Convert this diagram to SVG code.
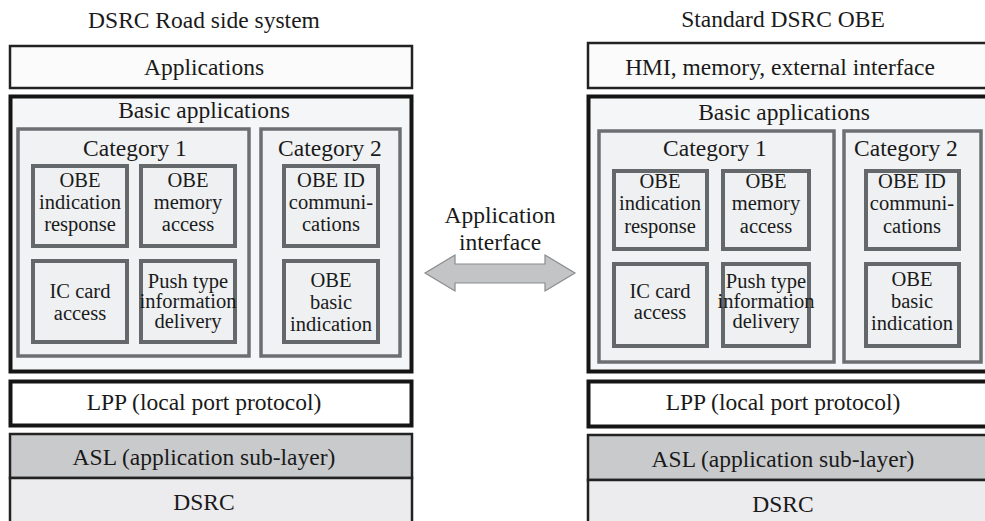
<svg xmlns="http://www.w3.org/2000/svg" width="985" height="521" viewBox="0 0 985 521">
<style>
text{font-family:"Liberation Serif","Times New Roman",serif;fill:#1a1a1a;text-anchor:middle}
.big{font-size:23.5px}
.small{font-size:20.5px}
.layer{fill:#fbfbfb;stroke:#222;stroke-width:2.5}
.outer{fill:#f5f6f7;stroke:#151515;stroke-width:4}
.lpp{fill:#ffffff;stroke:#151515;stroke-width:4}
.asl{fill:#c9cacc;stroke:#222;stroke-width:2.5}
.dsrc{fill:#ececee;stroke:#222;stroke-width:2.5}
.cat{fill:#f1f2f4;stroke:#6c6f72;stroke-width:3.5}
.fn{fill:#eef0f2;stroke:#65686b;stroke-width:4}
.arrow{fill:#c3c4c6;stroke:#8a8b8d;stroke-width:1.2}
</style>
<rect width="985" height="521" fill="#ffffff"/>

<g id="left-system">
<text class="big" x="204" y="28">DSRC Road side system</text>
<g id="l-applications"><rect class="layer" x="10" y="46" width="402" height="42"/><text class="big" x="204" y="75">Applications</text></g>
<g id="l-basic"><rect class="outer" x="10.5" y="96.5" width="401" height="275"/><text class="big" x="204" y="118">Basic applications</text></g>
<g id="l-cat1"><rect class="cat" x="18" y="129" width="231" height="227"/><text class="big" x="135" y="156">Category 1</text></g>
<g id="l-cat2"><rect class="cat" x="261" y="129" width="139" height="227"/><text class="big" x="330" y="156">Category 2</text></g>
<g id="l-obe-ind"><rect class="fn" x="33" y="166" width="94" height="80"/><text class="small" x="80" y="187">OBE</text><text class="small" x="80" y="209">indication</text><text class="small" x="80" y="231">response</text></g>
<g id="l-obe-mem"><rect class="fn" x="141" y="166" width="94" height="80"/><text class="small" x="188" y="187">OBE</text><text class="small" x="188" y="209">memory</text><text class="small" x="188" y="231">access</text></g>
<g id="l-ic"><rect class="fn" x="33" y="261" width="94" height="81"/><text class="small" x="80" y="298">IC card</text><text class="small" x="80" y="320">access</text></g>
<g id="l-push"><rect class="fn" x="141" y="261" width="94" height="81"/><text class="small" x="188" y="288">Push type</text><text class="small" x="188" y="308">information</text><text class="small" x="188" y="328">delivery</text></g>
<g id="l-obe-id"><rect class="fn" x="284" y="166" width="94" height="80"/><text class="small" x="331" y="187">OBE ID</text><text class="small" x="331" y="209">communi-</text><text class="small" x="331" y="231">cations</text></g>
<g id="l-obe-basic"><rect class="fn" x="284" y="261" width="94" height="81"/><text class="small" x="331" y="287">OBE</text><text class="small" x="331" y="309">basic</text><text class="small" x="331" y="331">indication</text></g>
<g id="l-lpp"><rect class="lpp" x="10.5" y="381.5" width="401" height="44"/><text class="big" x="204" y="410">LPP (local port protocol)</text></g>
<g id="l-asl"><rect class="asl" x="10" y="434" width="402" height="44"/><text class="big" x="204" y="465">ASL (application sub-layer)</text></g>
<g id="l-dsrc"><rect class="dsrc" x="10" y="478" width="402" height="50"/><text class="big" x="204" y="510">DSRC</text></g>
</g>

<g id="right-obe">
<text class="big" x="783" y="27">Standard DSRC OBE</text>
<g id="r-hmi"><rect class="layer" x="588" y="43" width="410" height="45"/><text class="big" x="780" y="75">HMI, memory, external interface</text></g>
<g id="r-basic"><rect class="outer" x="588.5" y="96.5" width="410" height="275"/><text class="big" x="784" y="120">Basic applications</text></g>
<g id="r-cat1"><rect class="cat" x="599" y="131" width="235" height="231"/><text class="big" x="715" y="156">Category 1</text></g>
<g id="r-cat2"><rect class="cat" x="844" y="131" width="137" height="231"/><text class="big" x="906" y="156">Category 2</text></g>
<g id="r-obe-ind"><rect class="fn" x="614" y="171" width="93" height="78"/><text class="small" x="660" y="188">OBE</text><text class="small" x="660" y="210">indication</text><text class="small" x="660" y="233">response</text></g>
<g id="r-obe-mem"><rect class="fn" x="723" y="171" width="86" height="78"/><text class="small" x="766" y="188">OBE</text><text class="small" x="766" y="210">memory</text><text class="small" x="766" y="233">access</text></g>
<g id="r-ic"><rect class="fn" x="614" y="264" width="93" height="82"/><text class="small" x="660" y="298">IC card</text><text class="small" x="660" y="319">access</text></g>
<g id="r-push"><rect class="fn" x="723" y="264" width="86" height="82"/><text class="small" x="766" y="288">Push type</text><text class="small" x="766" y="308">information</text><text class="small" x="766" y="328">delivery</text></g>
<g id="r-obe-id"><rect class="fn" x="866" y="171" width="93" height="78"/><text class="small" x="912" y="188">OBE ID</text><text class="small" x="912" y="210">communi-</text><text class="small" x="912" y="233">cations</text></g>
<g id="r-obe-basic"><rect class="fn" x="866" y="264" width="93" height="82"/><text class="small" x="912" y="286">OBE</text><text class="small" x="912" y="308">basic</text><text class="small" x="912" y="330">indication</text></g>
<g id="r-lpp"><rect class="lpp" x="588.5" y="381.5" width="410" height="45"/><text class="big" x="783" y="410">LPP (local port protocol)</text></g>
<g id="r-asl"><rect class="asl" x="588" y="435" width="410" height="45"/><text class="big" x="783" y="467">ASL (application sub-layer)</text></g>
<g id="r-dsrc"><rect class="dsrc" x="588" y="480" width="410" height="50"/><text class="big" x="783" y="512">DSRC</text></g>
</g>

<g id="connectors">
<polygon class="arrow" points="425,273 455,255 455,264 545,264 545,255 575,273 545,291 545,283 455,283 455,291"/>
<text class="big" x="500" y="223">Application</text>
<text class="big" x="500" y="250">interface</text>
</g>
</svg>
